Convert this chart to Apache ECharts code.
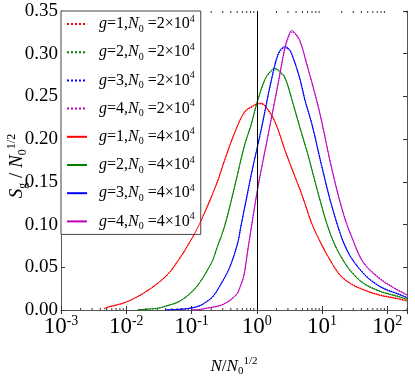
<!DOCTYPE html>
<html>

<head>
    <meta charset="utf-8">
    <script src="https://cdn.jsdelivr.net/npm/echarts@6.0.0/dist/echarts.min.js"></script>
    <style>
        html, body { margin: 0; padding: 0; background: #fff; }
    </style>
</head>

<body>
    <div id="echartsMain" style="width: 415px; height: 382px;"></div>
</body>

</html>

<script type="text/javascript">
    // values, x = N / N0^(1/2)
    let xs1 = [0.0046, 0.005, 0.01, 0.02, 0.041, 0.065, 0.093, 0.133, 0.24, 0.32, 0.46, 0.65, 0.85, 1.0, 1.15, 1.33, 1.89, 2.7, 3.84, 4.59, 5.48, 6.95, 8.28, 9.9, 13.3, 18.9, 27, 43.2, 78, 141, 200]
    let g1_4e4 = [0.0015, 0.003, 0.0094, 0.0216, 0.040, 0.060, 0.079, 0.101, 0.147, 0.175, 0.208, 0.232, 0.2385, 0.2415, 0.242, 0.2395, 0.2205, 0.187, 0.156, 0.141, 0.124, 0.101, 0.088, 0.076, 0.058, 0.0405, 0.031, 0.0235, 0.017, 0.0133, 0.0105]
    let g1_2e4 = [0.0012, 0.0028, 0.0092, 0.0214, 0.0398, 0.0598, 0.0788, 0.1008, 0.1468, 0.1748, 0.2078, 0.2315, 0.238, 0.2408, 0.2412, 0.2388, 0.2205, 0.1872, 0.1562, 0.1412, 0.1243, 0.1013, 0.0884, 0.0764, 0.0584, 0.041, 0.0315, 0.024, 0.0176, 0.0138, 0.011]

    let xs2 = [0.015, 0.03, 0.04, 0.0654, 0.105, 0.133, 0.168, 0.213, 0.24, 0.322, 0.459, 0.654, 0.82, 0.99, 1.33, 1.6, 1.89, 2.2, 2.7, 3.42, 4.59, 6.15, 7.8, 9.89, 11.8, 14.9, 18.9, 27, 43.2, 78, 141, 200]
    let g2_4e4 = [0.0003, 0.002, 0.0045, 0.0102, 0.0225, 0.032, 0.0443, 0.059, 0.0708, 0.0985, 0.145, 0.194, 0.217, 0.241, 0.270, 0.279, 0.283, 0.280, 0.272, 0.247, 0.213, 0.180, 0.150, 0.121, 0.101, 0.080, 0.064, 0.046, 0.031, 0.0216, 0.016, 0.0125]
    let g2_2e4 = [0.0003, 0.0019, 0.0044, 0.0101, 0.0223, 0.0318, 0.0441, 0.0588, 0.0706, 0.0983, 0.1448, 0.1938, 0.2168, 0.2405, 0.2695, 0.2782, 0.2815, 0.2792, 0.2715, 0.2472, 0.2133, 0.1805, 0.1505, 0.1215, 0.1015, 0.0806, 0.0646, 0.0466, 0.0316, 0.0221, 0.0165, 0.013]

    let xs3 = [0.04, 0.06, 0.093, 0.133, 0.168, 0.213, 0.27, 0.384, 0.516, 0.56, 0.68, 0.829, 1.0, 1.18, 1.68, 2.13, 2.63, 3.0, 3.42, 4.59, 5.48, 6.95, 9.89, 14.9, 24, 43.2, 78, 141, 200]
    let g3_4e4 = [0.0002, 0.0006, 0.002, 0.005, 0.0095, 0.016, 0.028, 0.050, 0.080, 0.095, 0.127, 0.160, 0.188, 0.213, 0.270, 0.300, 0.308, 0.307, 0.300, 0.270, 0.245, 0.218, 0.168, 0.115, 0.070, 0.0424, 0.027, 0.019, 0.0145]
    let g3_2e4 = [0.0002, 0.0005, 0.0019, 0.0049, 0.0093, 0.0158, 0.0278, 0.0498, 0.0798, 0.0948, 0.1268, 0.1598, 0.1878, 0.2128, 0.2695, 0.2985, 0.3065, 0.3058, 0.2995, 0.2702, 0.2455, 0.2186, 0.1686, 0.1156, 0.0706, 0.043, 0.0276, 0.0195, 0.015]

    let xs4 = [0.1, 0.13, 0.168, 0.303, 0.487, 0.548, 0.616, 0.654, 0.72, 0.78, 0.829, 1.047, 1.49, 2.13, 2.7, 3.1, 3.42, 3.8, 4.59, 5.82, 8.28, 9.89, 14.1, 21.3, 30.3, 43.2, 78, 141, 200]
    let g4_4e4 = [0.0002, 0.0005, 0.002, 0.0065, 0.018, 0.026, 0.037, 0.046, 0.068, 0.085, 0.098, 0.145, 0.205, 0.266, 0.3076, 0.322, 0.327, 0.325, 0.315, 0.288, 0.245, 0.220, 0.165, 0.112, 0.080, 0.055, 0.036, 0.0235, 0.0175]
    let g4_2e4 = [0.0002, 0.0005, 0.0019, 0.0064, 0.0178, 0.0258, 0.0368, 0.0458, 0.0678, 0.0848, 0.0978, 0.1448, 0.2047, 0.2655, 0.3062, 0.3205, 0.3252, 0.3238, 0.3142, 0.2878, 0.2452, 0.2204, 0.1654, 0.1126, 0.0806, 0.0556, 0.0366, 0.024, 0.018]

    let gLabels = ['1', '2', '3', '4']
    let n0Labels = ['2', '4']
    let colors = ['#ff0000', '#008000', '#0000ff', '#bf00bf']
    let yTitle = '{i|S}{sub|g}{n| / }{i|N}{sub|0}{sup|1/2}'
    let xTitle = '{i|N}{n|/}{i|N}{sub|0}{sup|1/2}'
    let minorTicks = [0.002, 0.003, 0.004, 0.005, 0.006, 0.007, 0.008, 0.009,
        0.02, 0.03, 0.04, 0.05, 0.06, 0.07, 0.08, 0.09,
        0.2, 0.3, 0.4, 0.5, 0.6, 0.7, 0.8, 0.9,
        2, 3, 4, 5, 6, 7, 8, 9,
        20, 30, 40, 50, 60, 70, 80, 90,
        200]

    function pairs(xs, ys) {
        return xs.map((x, i) => [x, ys[i]])
    }

    function mathStyle(size, sub) {
        let serif = 'Liberation Serif'
        return {
            w: { width: 7 },
            i: { fontFamily: serif, fontStyle: 'italic', fontSize: size, lineHeight: size + 4, color: '#000' },
            n: { fontFamily: serif, fontSize: size, lineHeight: size + 4, color: '#000' },
            sub: { fontFamily: serif, fontSize: sub, lineHeight: sub, verticalAlign: 'bottom', color: '#000' },
            sup: { fontFamily: serif, fontSize: sub, lineHeight: sub, verticalAlign: 'top', color: '#000' }
        }
    }

    function draw() {
        let myChart = echarts.init(document.getElementById('echartsMain'));

        let curves = [
            [xs1, g1_2e4, g1_4e4],
            [xs2, g2_2e4, g2_4e4],
            [xs3, g3_2e4, g3_4e4],
            [xs4, g4_2e4, g4_4e4]
        ]

        let names = []
        let series = []
        // dotted first (N0 = 2e4), then solid (N0 = 4e4)
        n0Labels.forEach((n0, k) => {
            curves.forEach((c, g) => {
                let name = 'g=' + gLabels[g] + ',N0=' + n0
                names.push(name)
                series.push({
                    name: name,
                    type: 'line',
                    data: pairs(c[0], c[1 + k]),
                    showSymbol: false,
                    symbol: 'none',
                    smooth: 0.35,
                    color: colors[g],
                    lineStyle: { color: colors[g], width: k == 0 ? 1.2 : 1, type: k == 0 ? 'dotted' : 'solid' },
                    z: 3 + k
                })
            })
        })

        series[0].markLine = {
            silent: true,
            symbol: 'none',
            label: { show: false },
            lineStyle: { color: '#000', width: 1, type: 'solid' },
            data: [{ xAxis: 1 }]
        }

        series.push({
            name: 'minor',
            type: 'custom',
            silent: true,
            data: minorTicks.map(v => [v, 0]),
            renderItem: function (params, api) {
                let x = api.coord([api.value(0), 0])[0]
                let yb = params.coordSys.y + params.coordSys.height
                let yt = params.coordSys.y
                return {
                    type: 'group',
                    children: [
                        { type: 'line', shape: { x1: x, y1: yb, x2: x, y2: yb - 2 }, style: { stroke: '#333', lineWidth: 1 } },
                        { type: 'line', shape: { x1: x, y1: yt, x2: x, y2: yt + 2 }, style: { stroke: '#333', lineWidth: 1 } }
                    ]
                }
            },
            z: 2
        })

        let frame = { show: true, lineStyle: { color: '#555', width: 1 } }
        let tick = { show: true, inside: true, length: 4, lineStyle: { color: '#333' } }

        var option = {
            animation: false,
            backgroundColor: '#fff',
            grid: { left: 61, right: 8, top: 11, bottom: 63 },
            graphic: [{
                type: 'text',
                x: 17,
                y: 166,
                rotation: Math.PI / 2,
                silent: true,
                style: {
                    text: yTitle,
                    align: 'center',
                    verticalAlign: 'middle',
                    rich: mathStyle(19, 12)
                }
            }],
            legend: {
                data: names,
                orient: 'vertical',
                left: 61,
                top: 11,
                padding: [3, 6, 3, 5],
                itemGap: 8.2,
                itemWidth: 20,
                itemHeight: 12,
                backgroundColor: '#fff',
                borderColor: '#444',
                borderWidth: 1,
                borderRadius: 0,
                lineStyle: { width: 2 },
                itemStyle: { opacity: 0 },
                formatter: function (name) {
                    let g = name.charAt(2)
                    let n0 = name.charAt(name.length - 1)
                    return '{w| }{i|g}{n|=' + g + ',}{i|N}{sub|0}{n| =' + n0 + '×10}{sup|4}'
                },
                textStyle: { rich: mathStyle(16, 10) }
            },
            xAxis: [{
                type: 'log',
                logBase: 10,
                min: 0.001,
                max: 200,
                position: 'bottom',
                axisLine: frame,
                axisTick: tick,
                splitLine: { show: false },
                axisLabel: {
                    margin: 4,
                    showMaxLabel: false,
                    formatter: function (v) {
                        let e = Math.round(Math.log10(v))
                        return '{b|10}{s|' + e + '}'
                    },
                    rich: {
                        b: { fontFamily: 'Liberation Sans Narrow', fontSize: 23, lineHeight: 26, color: '#000' },
                        s: { fontFamily: 'Liberation Sans Narrow', fontSize: 14, lineHeight: 14, verticalAlign: 'top', color: '#000' }
                    }
                },
                name: xTitle,
                nameLocation: 'middle',
                nameGap: 46,
                nameTextStyle: { rich: mathStyle(17, 11) }
            }, {
                type: 'log',
                logBase: 10,
                min: 0.001,
                max: 200,
                position: 'top',
                axisLine: frame,
                axisTick: tick,
                axisLabel: { show: false },
                splitLine: { show: false }
            }],
            yAxis: [{
                type: 'value',
                min: 0,
                max: 0.35,
                interval: 0.05,
                axisLine: frame,
                axisTick: tick,
                splitLine: { show: false },
                axisLabel: {
                    margin: 3,
                    color: '#000',
                    fontFamily: 'Liberation Sans Narrow',
                    fontSize: 19,
                    formatter: v => v.toFixed(2)
                }
            }, {
                type: 'value',
                min: 0,
                max: 0.35,
                interval: 0.05,
                position: 'right',
                axisLine: frame,
                axisTick: tick,
                axisLabel: { show: false },
                splitLine: { show: false }
            }],
            series: series
        };
        myChart.setOption(option);
    }

    draw()
</script>
